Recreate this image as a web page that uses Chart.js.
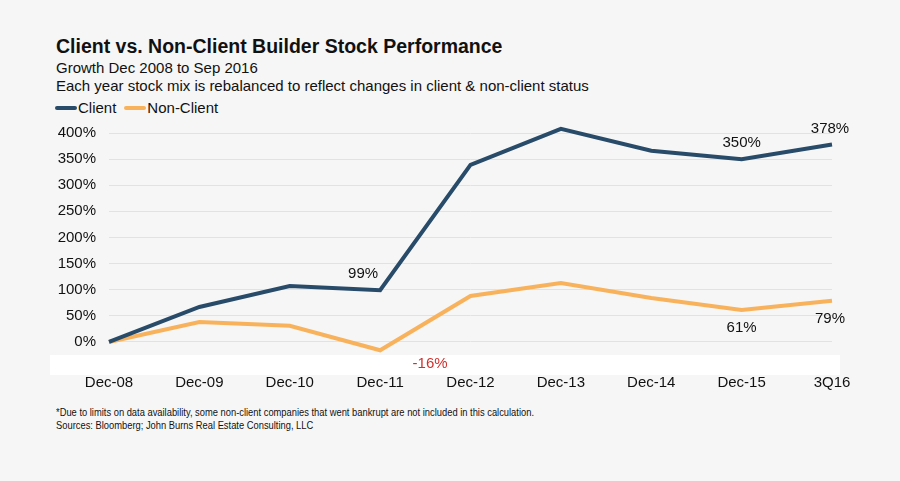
<!DOCTYPE html>
<html>
<head>
<meta charset="utf-8">
<script src="https://cdn.jsdelivr.net/npm/chart.js@4"></script>
<style>
    body { margin: 0; width: 900px; height: 481px; background: #f6f6f6; font-family: "Liberation Sans", Arial, sans-serif; color: #111; position: relative; overflow: hidden; }
    .title { position: absolute; left: 56px; top: 35px; font-size: 19.5px; font-weight: bold; }
    .sub { position: absolute; left: 56px; font-size: 15px; }
    .legend { position: absolute; left: 55px; top: 99px; font-size: 15px; display: flex; align-items: center; }
    .legend .swatch { display: inline-block; width: 22px; height: 4px; border-radius: 2px; margin-right: 1px; }
    .legend .item { display: flex; align-items: center; margin-right: 8px; }
    .note { position: absolute; left: 56px; font-size: 11px; transform: scaleX(0.85); transform-origin: left top; white-space: nowrap; }
    #wrap { position: absolute; left: 0; top: 110px; width: 900px; height: 290px; }
</style>
</head>
<body>
<div class="title">Client vs. Non-Client Builder Stock Performance</div>
<div class="sub" style="top:59px">Growth Dec 2008 to Sep 2016</div>
<div class="sub" style="top:77px">Each year stock mix is rebalanced to reflect changes in client &amp; non-client status</div>
<div class="legend">
    <span class="item"><span class="swatch" style="background:#284b6a"></span>Client</span>
    <span class="item"><span class="swatch" style="background:#f8b25c"></span>Non-Client</span>
</div>
<div id="wrap"><canvas id="chart"></canvas></div>
<div class="note" style="top:406px">*Due to limits on data availability, some non-client companies that went bankrupt are not included in this calculation.</div>
<div class="note" style="top:419px">Sources: Bloomberg; John Burns Real Estate Consulting, LLC</div>

<script>
const periods = ['Dec-08', 'Dec-09', 'Dec-10', 'Dec-11', 'Dec-12', 'Dec-13', 'Dec-14', 'Dec-15', '3Q16'];
const clientVals = [0, 67, 107, 99, 339, 408, 366, 350, 378];
const nonClientVals = [0, 38, 31, -16, 88, 113, 84, 61, 79];
const yTicks = [0, 50, 100, 150, 200, 250, 300, 350, 400];
const clientLabelled = [3, 7, 8];
const nonClientLabelled = [3, 7, 8];

// white strip under the zero line, as in the original slide
const stripPlugin = {
    id: 'strip',
    beforeDraw(chart) {
        const { ctx, chartArea } = chart;
        ctx.save();
        ctx.fillStyle = '#ffffff';
        ctx.fillRect(chartArea.left - 59, chartArea.bottom, chartArea.right - chartArea.left + 67, 20);
        ctx.restore();
    }
};

// value labels for the highlighted points
const labelPlugin = {
    id: 'pointLabels',
    afterDatasetsDraw(chart) {
        const ctx = chart.ctx;
        ctx.save();
        ctx.font = '15px "Liberation Sans", Arial, sans-serif';
        ctx.textAlign = 'center';
        ctx.textBaseline = 'middle';
        const c = chart.getDatasetMeta(0).data;
        clientLabelled.forEach(i => {
            ctx.fillStyle = '#111';
            let dx = i === 8 ? -2 : 0;
            if (i === 3) dx = -17;
            ctx.fillText(clientVals[i] + '%', c[i].x + dx, c[i].y - 16);
        });
        const n = chart.getDatasetMeta(1).data;
        nonClientLabelled.forEach(i => {
            if (nonClientVals[i] < 0) {
                ctx.fillStyle = '#d0312d';
                ctx.fillText(nonClientVals[i] + '%', n[i].x + 50, n[i].y + 14);
            } else {
                ctx.fillStyle = '#111';
                ctx.fillText(nonClientVals[i] + '%', n[i].x - (i === 8 ? 2 : 0), n[i].y + 18);
            }
        });
        ctx.restore();
    }
};

new Chart(document.getElementById('chart'), {
    type: 'line',
    data: {
        labels: periods,
        datasets: [
            { label: 'Client', data: clientVals, borderColor: '#284b6a', backgroundColor: '#284b6a', borderWidth: 4, pointRadius: 0, tension: 0, clip: false },
            { label: 'Non-Client', data: nonClientVals, borderColor: '#f8b25c', backgroundColor: '#f8b25c', borderWidth: 4, pointRadius: 0, tension: 0, clip: false }
        ]
    },
    options: {
        responsive: true,
        maintainAspectRatio: false,
        animation: false,
        layout: { padding: { left: 47, right: 68, top: 23, bottom: 0 } },
        plugins: { legend: { display: false }, tooltip: { enabled: false } },
        scales: {
            x: {
                offset: false,
                grid: { display: false, drawTicks: false },
                border: { display: false },
                ticks: { color: '#111', font: { size: 15, family: '"Liberation Sans", Arial, sans-serif' }, padding: 19, maxRotation: 0 },
                afterFit: s => { s.height = 45; }
            },
            y: {
                min: -25,
                max: 400,
                grid: { color: '#e2e2e2', lineWidth: 1, drawTicks: false },
                border: { display: false },
                ticks: { color: '#111', padding: 13, font: { size: 15, family: '"Liberation Sans", Arial, sans-serif' }, callback: v => v + '%' },
                afterBuildTicks: s => { s.ticks = yTicks.map(v => ({ value: v })); },
                afterFit: s => { s.width = 62; }
            }
        }
    },
    plugins: [stripPlugin, labelPlugin]
});
</script>
</body>
</html>
